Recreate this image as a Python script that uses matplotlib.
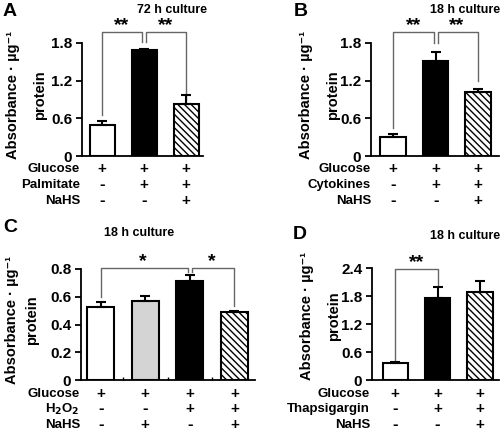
import matplotlib.pyplot as plt
import matplotlib.transforms as mtransforms

plt.rcParams['font.family'] = ['Liberation Sans', 'DejaVu Sans']
plt.rcParams['font.weight'] = 'bold'
plt.rcParams['hatch.linewidth'] = 1.0

W, H = 502, 437

# -- data
a_values = [0.50, 1.69, 0.83]
a_errors = [0.05, 0.01, 0.14]
a_rows = ['Glucose', 'Palmitate', 'NaHS']
a_signs = [['+', '+', '+'], ['-', '+', '+'], ['-', '-', '+']]

b_values = [0.31, 1.51, 1.02]
b_errors = [0.04, 0.14, 0.04]
b_rows = ['Glucose', 'Cytokines', 'NaHS']
b_signs = [['+', '+', '+'], ['-', '+', '+'], ['-', '-', '+']]

c_values = [0.525, 0.566, 0.71, 0.49]
c_errors = [0.035, 0.04, 0.05, 0.004]
c_rows = ['Glucose', 'H$_2$O$_2$', 'NaHS']
c_signs = [['+', '+', '+', '+'], ['-', '-', '+', '+'], ['-', '+', '-', '+']]

d_values = [0.37, 1.75, 1.89]
d_errors = [0.02, 0.24, 0.24]
d_rows = ['Glucose', 'Thapsigargin', 'NaHS']
d_signs = [['+', '+', '+'], ['-', '+', '+'], ['-', '-', '+']]

WHITE = dict(facecolor='white', hatch=None)
BLACK = dict(facecolor='black', hatch=None)
HATCH = dict(facecolor='white', hatch='\\\\\\\\\\')
GRAY = dict(facecolor='#d4d4d4', hatch=None)


def px_axes(x0, x1, y_bottom, y_top):
    return [x0 / W, 1 - y_bottom / H, (x1 - x0) / W, (y_bottom - y_top) / H]


def panel(fig, rect, values, errors, styles, xlim, ylim, yticks, ticklabels,
          rows, signs, row_y, label_x, minor_ticks=False):
    ax = fig.add_axes(rect)
    xs = list(range(len(values)))
    for x, v, e, st in zip(xs, values, errors, styles):
        ax.bar(x, v, width=0.6, facecolor=st['facecolor'], edgecolor='black',
               linewidth=1.5, hatch=st['hatch'], zorder=2)
        ax.errorbar(x, v, yerr=[[0], [e]], color='black', capsize=3.5,
                    elinewidth=1.5, capthick=1.5, zorder=3)
    ax.set_xlim(*xlim)
    ax.set_ylim(*ylim)
    ax.set_yticks(yticks)
    ax.set_yticklabels(ticklabels, fontsize=11, fontweight='bold')
    ax.set_xticks([])
    if minor_ticks:
        ax.set_xticks([x + 0.5 for x in xs[:-1]], minor=True)
        ax.tick_params(axis='x', which='minor', direction='in', length=2, width=1)
    ax.tick_params(axis='y', direction='out', length=4, width=1.3, pad=3)
    for s in ['top', 'right']:
        ax.spines[s].set_visible(False)
    for s in ['left', 'bottom']:
        ax.spines[s].set_linewidth(1.3)

    trans = mtransforms.blended_transform_factory(ax.transData, fig.dpi_scale_trans)
    for name, row, y in zip(rows, signs, row_y):
        fig.text(label_x / W, 1 - y / H, name, ha='right', va='center',
                 fontsize=9.5, fontweight='bold')
        for x, s in zip(xs, row):
            ax.text(x, (H - y) / 100.0, s, transform=trans,
                    ha='center', va='center', fontsize=11 if s == '+' else 12,
                    fontweight='bold')
    return ax


def bracket(ax, x0, x1, top, y0, y1):
    ax.plot([x0, x0, x1, x1], [y0, top, top, y1], color='#666666', lw=1.0,
            clip_on=False, zorder=1)


def stars(ax, x, y, s):
    ax.text(x, y, s, ha='center', va='center', fontsize=14, fontweight='bold')


def ylabel(fig, x1, x2, yc):
    fig.text(x1 / W, 1 - yc / H, 'Absorbance \u00b7 \u00b5g\u207b\u00b9',
             rotation=90, ha='center', va='center', fontsize=10.5, fontweight='bold',
             family=['Liberation Sans', 'DejaVu Sans'])
    fig.text(x2 / W, 1 - yc / H, 'protein', rotation=90, ha='center', va='center',
             fontsize=10.5, fontweight='bold')


def title(fig, x, y, s, ha='center'):
    fig.text(x / W, 1 - y / H, s, ha=ha, va='center', fontsize=9, fontweight='bold')


fig = plt.figure(figsize=(W / 100, H / 100), dpi=100)

# -- A
ax = panel(fig, px_axes(82, 203, 156, 43), a_values, a_errors, [WHITE, BLACK, HATCH],
           (-0.48, 2.4), (0, 1.8), [0, 0.6, 1.2, 1.8], ['0', '0.6', '1.2', '1.8'],
           a_rows, a_signs, [169, 185, 201], 80)
bracket(ax, 0, 0.95, 1.98, 0.65, 1.81)
bracket(ax, 1.05, 2, 1.98, 1.81, 0.9)
stars(ax, 0.47, 2.08, '**')
stars(ax, 1.5, 2.08, '**')
ylabel(fig, 13, 40, 95)
title(fig, 172, 10, '72 h culture')
fig.text(3 / W, 1 - 12 / H, 'A', ha='left', va='center', fontsize=14, fontweight='bold')

# -- B
ax = panel(fig, px_axes(371, 499, 156, 43), b_values, b_errors, [WHITE, BLACK, HATCH],
           (-0.52, 2.49), (0, 1.8), [0, 0.6, 1.2, 1.8], ['0', '0.6', '1.2', '1.8'],
           b_rows, b_signs, [169, 185, 201], 371)
bracket(ax, 0, 0.95, 1.98, 0.45, 1.80)
bracket(ax, 1.05, 2, 1.98, 1.80, 1.19)
stars(ax, 0.47, 2.08, '**')
stars(ax, 1.5, 2.08, '**')
ylabel(fig, 306, 333, 95)
title(fig, 500, 10, '18 h culture', ha='right')
fig.text(294 / W, 1 - 12 / H, 'B', ha='left', va='center', fontsize=14, fontweight='bold')

# -- C
ax = panel(fig, px_axes(81, 255, 380, 269), c_values, c_errors, [WHITE, GRAY, BLACK, HATCH],
           (-0.44, 3.46), (0, 0.8), [0, 0.2, 0.4, 0.6, 0.8], ['0', '0.2', '0.4', '0.6', '0.8'],
           c_rows, c_signs, [394, 409, 425], 80, minor_ticks=True)
bracket(ax, 0, 1.95, 0.805, 0.60, 0.775)
bracket(ax, 2.05, 3, 0.805, 0.775, 0.53)
stars(ax, 0.95, 0.85, '*')
stars(ax, 2.5, 0.85, '*')
ylabel(fig, 12, 32, 320)
title(fig, 139, 233, '18 h culture')
fig.text(3 / W, 1 - 228 / H, 'C', ha='left', va='center', fontsize=14, fontweight='bold')

# -- D
ax = panel(fig, px_axes(372, 499, 380, 268), d_values, d_errors, [WHITE, BLACK, HATCH],
           (-0.55, 2.45), (0, 2.4), [0, 0.6, 1.2, 1.8, 2.4], ['0', '0.6', '1.2', '1.8', '2.4'],
           d_rows, d_signs, [394, 409, 425], 370)
bracket(ax, 0, 1, 2.37, 0.41, 2.02)
stars(ax, 0.5, 2.52, '**')
ylabel(fig, 307, 334, 316)
title(fig, 500, 236, '18 h culture', ha='right')
fig.text(293 / W, 1 - 234 / H, 'D', ha='left', va='center', fontsize=14, fontweight='bold')

fig.savefig('out.png', dpi=100)
